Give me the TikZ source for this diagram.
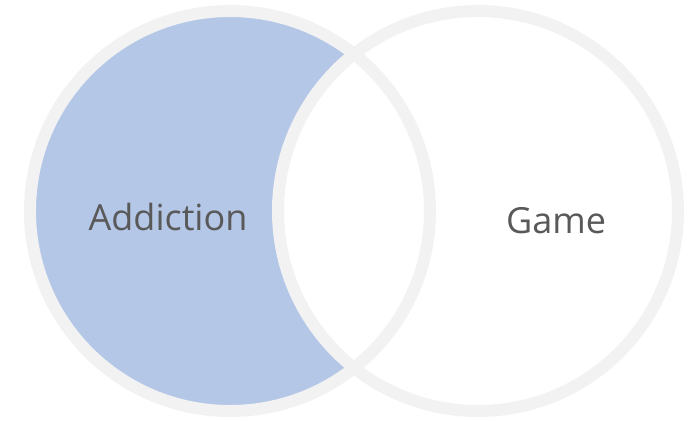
\documentclass[tikz,border=0pt]{standalone}
\usepackage{fontspec}
\setmainfont{Open Sans}
\definecolor{crescentblue}{HTML}{B4C7E7}
\definecolor{ringgray}{HTML}{F2F2F2}
\definecolor{labelgray}{HTML}{595959}
\tikzset{
    ring/.style={draw=ringgray, line width=12pt},
    setlabel/.style={text=labelgray, font=\fontsize{36}{42}\selectfont, inner sep=0pt}
}
\begin{document}
\begin{tikzpicture}[x=1pt, y=-1pt]%% venn picture
    \useasboundingbox (0, 0) rectangle (689, 421);

        \coordinate (addc) at (230, 211);
        \coordinate (gamec) at (478, 211);

        % filled crescent
        \fill[crescentblue] (addc) circle (200);
        \fill[white] (gamec) circle (200);

        % rings
        \draw[ring] (addc) circle (200);
        \draw[ring] (gamec) circle (200);

        \node[setlabel] (addiction) at (168, 217) {Addiction};
        \node[setlabel] (game) at (556, 221) {Game};

\end{tikzpicture}
\end{document}
